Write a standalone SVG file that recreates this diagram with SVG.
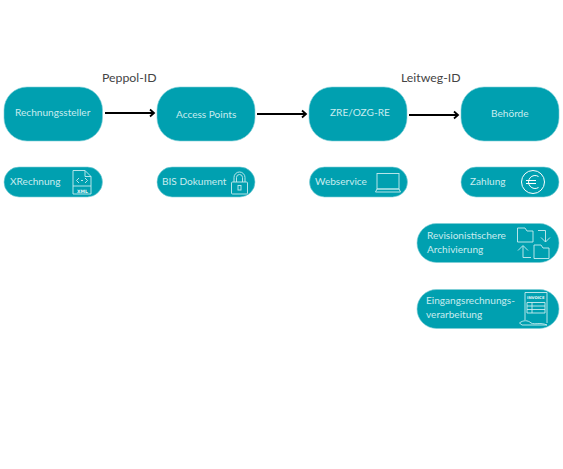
<svg xmlns="http://www.w3.org/2000/svg" width="563" height="469" viewBox="0 0 563 469">
<style>
.b{fill:#00a0b0;stroke:#7fcfd7;stroke-width:.6}
.t{font-family:"Lato","Noto Sans",sans-serif;font-size:10.100px;fill:#c9ecef}
.h{font-family:"Lato","Noto Sans",sans-serif;font-size:12.300px;fill:#444}
.i{fill:none;stroke:#c9ecef;stroke-width:.9}
.w{fill:none;stroke:#fff;stroke-width:1}
.c{fill:none;stroke:#000;stroke-width:2;marker-end:url(#a)}
.m{font-family:"DejaVu Sans",sans-serif;font-weight:700;fill:#e6f6f7}
</style>
<defs><marker id="a" markerUnits="userSpaceOnUse" markerWidth="8" markerHeight="10" refX="6.500" refY="5" orient="auto"><path d="M2.500 1.500L6.500 5L2.500 8.500" fill="none" stroke="#000" stroke-width="1.800"/></marker></defs>
<rect width="563" height="469" fill="#fff"/>
<text class="h" x="102" y="82">Peppol-ID</text>
<text class="h" x="401" y="82">Leitweg-ID</text>
<g id="connectors">
<path class="c" d="M105 113H154"/>
<path class="c" d="M257 114H306"/>
<path class="c" d="M409 115H458"/>
</g>
<g id="rechnungssteller"><rect class="b" x="4" y="87" width="98.500" height="54" rx="23"/><text class="t" x="15" y="116">Rechnungssteller</text></g>
<g id="access-points"><rect class="b" x="157" y="87" width="98" height="54" rx="23"/><text class="t" x="176" y="118">Access Points</text></g>
<g id="zre"><rect class="b" x="309" y="87" width="98" height="54" rx="23"/><text class="t" x="330" y="116">ZRE/OZG-RE</text></g>
<g id="behoerde"><rect class="b" x="461" y="87" width="98" height="54" rx="23"/><text class="t" x="491" y="117">Behörde</text></g>
<g id="xrechnung"><rect class="b" x="4" y="167" width="98.500" height="30" rx="15"/><text class="t" x="10" y="185">XRechnung</text>
<path class="i" d="M73 170.500H85L91 176.500V194H73ZM85 170.500V176.500H91"/><path class="i" d="M73 186H91"/><path class="i" d="M79 178L76.500 180.500L79 183M85 178L87.500 180.500L85 183M81 180.500H83"/><text class="m" x="77" y="192.800" font-size="4.500">XML</text></g>
<g id="bis-dokument"><rect class="b" x="157" y="167" width="98" height="30" rx="15"/><text class="t" x="162" y="185">BIS Dokument</text>
<rect class="i" x="231.500" y="182" width="16" height="12" rx="1"/><path class="i" d="M234 182V177.500A5.500 5.500 0 0 1 245 177.500V182M236.500 182V177.500A3 3 0 0 1 242.500 177.500V182"/><rect class="i" x="238" y="185.500" width="3" height="4.500"/></g>
<g id="webservice"><rect class="b" x="309.500" y="167" width="98" height="30" rx="15"/><text class="t" x="315" y="185">Webservice</text>
<rect class="i" x="377" y="173.500" width="22" height="15.500"/><path class="i" d="M375.500 192H400.500L399 189H377Z"/></g>
<g id="zahlung"><rect class="b" x="461" y="167" width="98" height="30" rx="15"/><text class="t" x="470" y="185">Zahlung</text>
<circle class="w" cx="533" cy="182" r="11.500"/><path class="w" d="M538.500 176.500A6.500 6.500 0 1 0 538.500 187.500M526 180.500H536M526 183.500H536"/></g>
<g id="archivierung"><rect class="b" x="417" y="223.500" width="142" height="39" rx="19.500"/><text class="t"><tspan x="427" y="239">Revisionistischere</tspan><tspan x="427" y="253">Archivierung</tspan></text>
<path class="i" d="M517.500 242V228H525L527 231H533V242Z"/><path class="i" d="M538 230.500H545.500V242M541 237.500L545.500 242L550 237.500"/>
<path class="i" d="M531 257.500H523V246M518 250.500L523 245.500L528 250.500"/><path class="i" d="M534 258.500V245H541L543 248H549V258.500Z"/></g>
<g id="eingangsrechnung"><rect class="b" x="417" y="289.500" width="142" height="39" rx="19.500"/><text class="t"><tspan x="426" y="304">Eingangsrechnungs-</tspan><tspan x="426" y="318">verarbeitung</tspan></text>
<path class="i" d="M525 320V292.500H547V323"/><text class="m" x="527" y="299" font-size="3.800">INVOICE</text>
<path class="i" d="M527 302.500H545V313H527ZM527 306H545M527 309.500H545M532 302.500V313"/>
<path class="i" d="M519.500 323C523 320 528 320 531 323C535 325 540 322 547 325H522Z"/></g>
</svg>
